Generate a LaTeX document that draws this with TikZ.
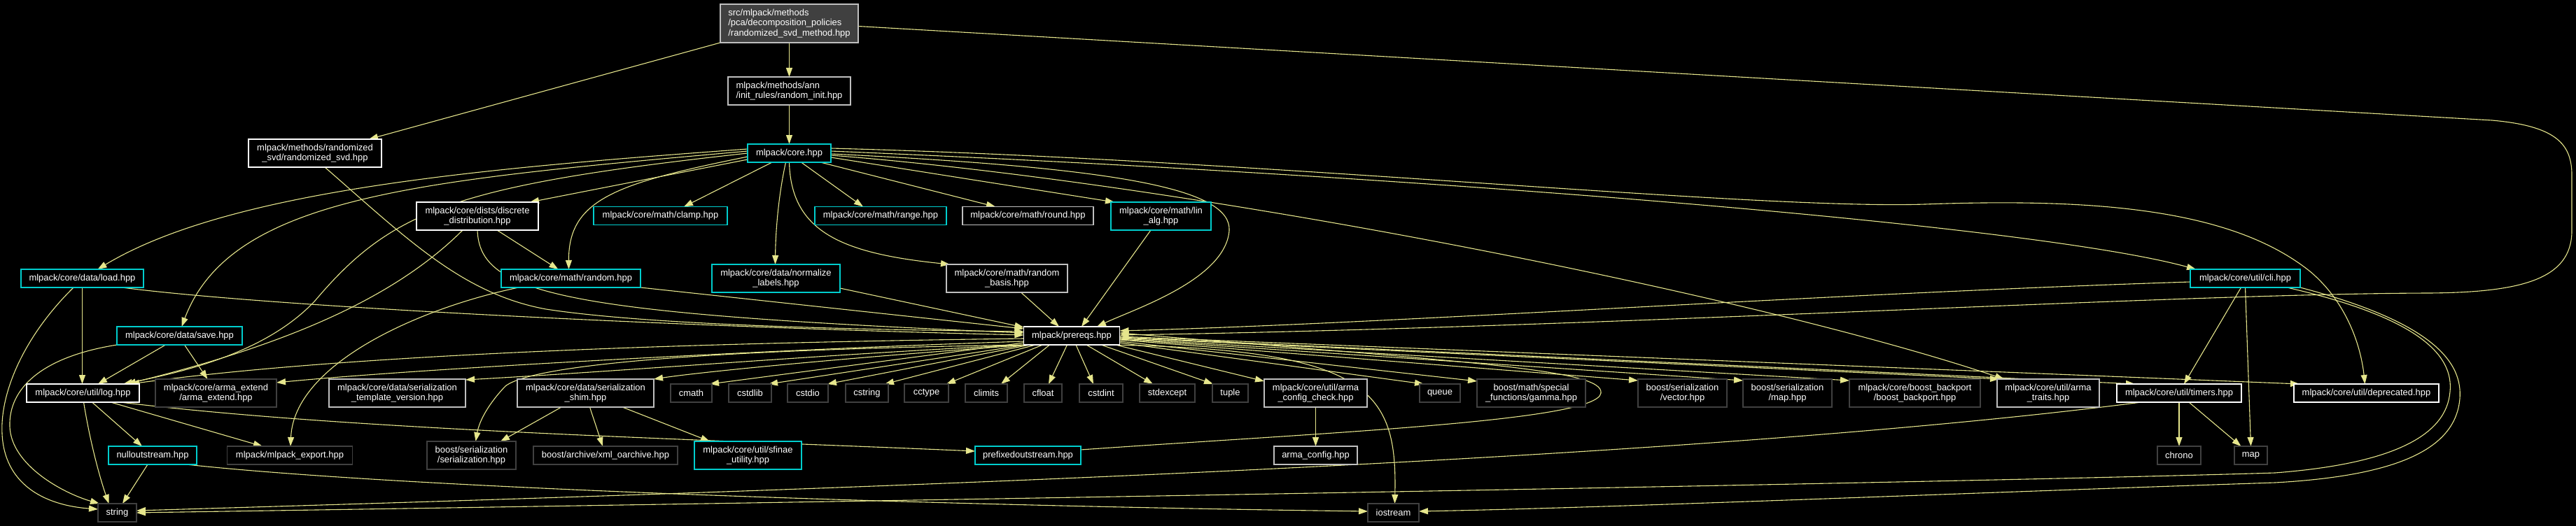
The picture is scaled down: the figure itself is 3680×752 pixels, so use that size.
\documentclass[tikz,border=0pt]{standalone}
\usepackage{fontspec}
\newfontfamily\nodefont{Liberation Sans}
\usetikzlibrary{arrows.meta,calc}
\definecolor{edgec}{RGB}{230,230,140}
\definecolor{cyanc}{RGB}{0,205,205}
\definecolor{lgray}{RGB}{191,191,191}
\definecolor{dgray}{RGB}{64,64,64}
\definecolor{topfill}{RGB}{64,64,64}
\pgfdeclarelayer{bgl}
\pgfdeclarelayer{edl}
\pgfsetlayers{bgl,edl,main}
\tikzset{
 nd/.style={draw, line width=1.2bp, fill=black, text=white, inner sep=0pt, outer sep=0pt, align=center,
   font=\nodefont\fontsize{13}{14.5}\selectfont, minimum height=26bp},
 cy/.style={nd, draw=cyanc},
 wh/.style={nd, draw=white},
 lg/.style={nd, draw=lgray},
 dg/.style={nd, draw=dgray},
 tw/.style={minimum height=40bp},
 W/.style={minimum width=#1bp},
 edg/.style={draw=edgec, line width=1.1bp, -{Triangle[length=13bp,width=9bp]}},
}
\begin{document}
\begin{tikzpicture}[x=1bp,y=-1bp]
\useasboundingbox (0,0) rectangle (3680,752);
\begin{pgfonlayer}{bgl}
\fill[black] (0,0) rectangle (3680,752);
\end{pgfonlayer}
% rank 0-2
\node[lg,W=197,minimum height=55bp,fill=topfill,align=left] (top) at (1127.5,33.5) {src/mlpack/methods\\/pca/decomposition\_policies\\/randomized\_svd\_method.hpp};
\node[lg,W=175,tw,align=left] (rinit) at (1127.5,130) {mlpack/methods/ann\\/init\_rules/random\_init.hpp};
\node[cy,W=119] (core) at (1127.5,219) {mlpack/core.hpp};
\node[wh,W=190,tw] (rsvd) at (450,219) {mlpack/methods/randomized\\\_svd/randomized\_svd.hpp};
% rank 3
\node[wh,W=174,tw] (discrete) at (682,309) {mlpack/core/dists/discrete\\\_distribution.hpp};
\node[cy,W=191] (clamp) at (943.5,308.5) {mlpack/core/math/clamp.hpp};
\node[cy,W=188] (range) at (1258,308.5) {mlpack/core/math/range.hpp};
\node[lg,W=187] (round) at (1468.5,308.5) {mlpack/core/math/round.hpp};
\node[cy,W=143,tw] (linalg) at (1658.5,309) {mlpack/core/math/lin\\\_alg.hpp};
% rank 4
\node[cy,W=175] (load) at (117.5,398) {mlpack/core/data/load.hpp};
\node[cy,W=199] (random) at (815.5,398) {mlpack/core/math/random.hpp};
\node[cy,W=183,tw] (normalize) at (1108.5,398) {mlpack/core/data/normalize\\\_labels.hpp};
\node[lg,W=173,tw] (rbasis) at (1438.5,398) {mlpack/core/math/random\\\_basis.hpp};
\node[cy,W=157] (cli) at (3207.5,398) {mlpack/core/util/cli.hpp};
% rank 5
\node[cy,W=179] (save) at (256.5,480) {mlpack/core/data/save.hpp};
\node[wh,W=137] (prereqs) at (1531,480) {mlpack/prereqs.hpp};
% rank 6
\node[wh,W=161] (log) at (118.5,562) {mlpack/core/util/log.hpp};
\node[dg,W=173,tw] (armaext) at (308.5,562) {mlpack/core/arma\_extend\\/arma\_extend.hpp};
\node[lg,W=195,tw] (stv) at (567.5,562) {mlpack/core/data/serialization\\\_template\_version.hpp};
\node[lg,W=195,tw] (shim) at (836.5,562) {mlpack/core/data/serialization\\\_shim.hpp};
\node[dg,W=59] (cmath) at (987.5,562) {cmath};
\node[dg,W=61] (cstdlib) at (1071.5,562) {cstdlib};
\node[dg,W=58] (cstdio) at (1154,562) {cstdio};
\node[dg,W=61] (cstring) at (1238.5,562) {cstring};
\node[dg,W=63] (cctype) at (1323.5,562) {cctype};
\node[dg,W=60] (climits) at (1409,562) {climits};
\node[dg,W=54] (cfloat) at (1490,562) {cfloat};
\node[dg,W=62] (cstdint) at (1573,562) {cstdint};
\node[dg,W=79] (stdexcept) at (1667.5,562) {stdexcept};
\node[dg,W=51] (tuple) at (1757.5,562) {tuple};
\node[lg,W=147,tw] (acc) at (1879.5,562) {mlpack/core/util/arma\\\_config\_check.hpp};
\node[dg,W=58] (queue) at (2057,562) {queue};
\node[dg,W=155,tw] (gamma) at (2187.5,562) {boost/math/special\\\_functions/gamma.hpp};
\node[dg,W=127,tw] (bvector) at (2403.5,562) {boost/serialization\\/vector.hpp};
\node[dg,W=127,tw] (bmap) at (2553.5,562) {boost/serialization\\/map.hpp};
\node[dg,W=187,tw] (backport) at (2735.5,562) {mlpack/core/boost\_backport\\/boost\_backport.hpp};
\node[lg,W=146,tw] (traits) at (2926,562) {mlpack/core/util/arma\\\_traits.hpp};
\node[wh,W=178] (timers) at (3113,562) {mlpack/core/util/timers.hpp};
\node[wh,W=207] (deprecated) at (3380.5,562) {mlpack/core/util/deprecated.hpp};
% rank 7
\node[cy,W=126] (nullout) at (218,651) {nulloutstream.hpp};
\node[dg,W=179] (export) at (414,651) {mlpack/mlpack\_export.hpp};
\node[dg,W=127,tw] (bser) at (673.5,651) {boost/serialization\\/serialization.hpp};
\node[dg,W=206] (xml) at (865,651) {boost/archive/xml\_oarchive.hpp};
\node[cy,W=153,tw] (sfinae) at (1068.5,651) {mlpack/core/util/sfinae\\\_utility.hpp};
\node[cy,W=151] (prefixed) at (1468.5,651) {prefixedoutstream.hpp};
\node[lg,W=119] (armaconfig) at (1879.5,651) {arma\_config.hpp};
\node[dg,W=62] (chrono) at (3113,651) {chrono};
\node[dg,W=47] (map) at (3215.5,651) {map};
% rank 8
\node[dg,W=55] (string) at (167.5,733) {string};
\node[dg,W=73] (iostream) at (1990.5,733) {iostream};

\begin{pgfonlayer}{edl}
% top
\draw[edg] (top.south) -- (rinit.north);
\draw[edg] (rinit.south) -- (core.north);
\draw[edg] (top.south west) -- ($(rsvd.north east)+(-18,0)$);
\draw[edg] ($(top.east)+(0,4)$) -- (3560,172) .. controls (3650,180) and (3674,205) .. (3674,250) -- (3674,330) .. controls (3674,400) and (3600,418) .. (3470,419) .. controls (3100,420) and (2300,468) .. ($(prereqs.east)+(0,-1)$);
% rsvd
\draw[edg] ($(rsvd.south)+(14,0)$) .. controls (580,340) and (660,420) .. (780,442) .. controls (950,468) and (1300,472) .. ($(prereqs.west)+(0,-6)$);
% core
\draw[edg] ($(core.west)+(0,-6)$) .. controls (700,240) and (330,270) .. ($(load.north)+(22,0)$);
\draw[edg] ($(core.west)+(0,-3)$) .. controls (600,258) and (330,280) .. ($(save.north)+(3,0)$);
\draw[edg] (core.west) .. controls (650,265) and (560,300) .. (450,430) .. controls (380,505) and (260,532) .. ($(log.north east)+(-23,0)$);
\draw[edg] ($(core.west)+(0,9)$) -- ($(discrete.north east)+(-12,0)$);
\draw[edg] ($(core.west)+(0,5)$) .. controls (880,262) and (812,285) .. ($(random.north)+(-3,0)$);
\draw[edg] ($(core.south west)+(35,0)$) -- ($(clamp.north east)+(-62,0)$);
\draw[edg] ($(core.south)+(-5,0)$) .. controls (1112,280) and (1108,330) .. ($(normalize.north)+(-1,0)$);
\draw[edg] (core.south) .. controls (1130,330) and (1200,362) .. ($(rbasis.north west)+(5,0)$);
\draw[edg] ($(core.south)+(17,0)$) -- ($(range.north)+(-25,0)$);
\draw[edg] ($(core.south east)+(-15,0)$) -- ($(round.north west)+(47,0)$);
\draw[edg] ($(core.east)+(0,6)$) -- ($(linalg.north west)+(5,0)$);
\draw[edg] ($(core.east)+(0,1)$) .. controls (1600,240) and (1760,270) .. (1756,330) .. controls (1750,400) and (1620,442) .. ($(prereqs.north)+(36,0)$);
\draw[edg] ($(core.east)+(0,-3)$) .. controls (2000,250) and (2900,320) .. ($(cli.north west)+(8,0)$);
\draw[edg] ($(core.east)+(0,3)$) .. controls (1700,262) and (2500,420) .. ($(traits.north west)+(10,0)$);
\draw[edg] ($(core.east)+(0,-7)$) .. controls (1800,228) and (2500,300) .. (2750,292) .. controls (3000,283) and (3190,300) .. (3300,388) .. controls (3350,430) and (3372,490) .. ($(deprecated.north)+(-2,0)$);
% discrete
\draw[edg] ($(discrete.south east)+(-59,0)$) -- ($(random.north)+(-18,0)$);
\draw[edg] ($(discrete.south west)+(66,0)$) .. controls (560,430) and (400,495) .. ($(log.north east)+(-18,0)$);
\draw[edg] (discrete.south) .. controls (685,420) and (800,448) .. ($(prereqs.west)+(0,-4)$);
% rank 3/4 to prereqs
\draw[edg] ($(linalg.south west)+(57,0)$) -- ($(prereqs.north)+(14,0)$);
\draw[edg] (random.south east) -- ($(prereqs.west)+(0,-10)$);
\draw[edg] ($(normalize.south east)+(0,-6)$) -- ($(prereqs.north west)+(0,1)$);
\draw[edg] ($(rbasis.south)+(20,0)$) -- ($(prereqs.north)+(-18,0)$);
\draw[edg] ($(random.south west)+(25,0)$) .. controls (600,440) and (420,520) .. ($(export.north)+(1,0)$);
% load
\draw[edg] ($(load.south west)+(75,0)$) .. controls (35,480) and (0,560) .. (3,620) .. controls (6,690) and (60,722) .. ($(string.west)+(0,-5)$);
\draw[edg] (load.south) -- ($(log.north)+(-1,0)$);
\draw[edg] ($(load.south east)+(-31,0)$) .. controls (400,440) and (1000,468) .. ($(prereqs.west)+(0,-1)$);
% save
\draw[edg] (save.south west) .. controls (60,510) and (12,555) .. (14,610) .. controls (16,665) and (90,705) .. ($(string.north west)+(2,0)$);
\draw[edg] ($(save.south)+(-20,0)$) -- ($(log.north east)+(-59,0)$);
\draw[edg] ($(save.south)+(7,0)$) -- ($(armaext.north)+(-12,0)$);
% cli
\draw[edg] ($(cli.west)+(0,5)$) .. controls (2600,420) and (2000,462) .. ($(prereqs.east)+(0,-7)$);
\draw[edg] ($(cli.south)+(-6,0)$) -- ($(timers.north)+(7,0)$);
\draw[edg] (cli.south) -- (map.north);
\draw[edg] ($(cli.south east)+(-19,0)$) .. controls (3460,455) and (3505,510) .. (3500,560) .. controls (3495,622) and (3420,663) .. (3250,676) .. controls (2800,690) and (1300,716) .. ($(string.east)+(0,0)$);
\draw[edg] (cli.south east) .. controls (3480,462) and (3518,520) .. (3514,570) .. controls (3508,640) and (3430,680) .. (3250,690) .. controls (2800,705) and (2300,726) .. ($(iostream.east)+(0,-2)$);
% timers
\draw[edg] ($(timers.south west)+(35,0)$) .. controls (2400,660) and (1200,700) .. ($(string.east)+(0,-3)$);
\draw[edg] (timers.south) -- (chrono.north);
\draw[edg] ($(timers.south)+(14,0)$) -- ($(map.north)+(-14,0)$);
% log
\draw[edg] ($(log.south)+(1,0)$) .. controls (130,640) and (145,690) .. ($(string.north)+(-12,0)$);
\draw[edg] ($(log.south)+(13,0)$) -- ($(nullout.north)+(-15,0)$);
\draw[edg] ($(log.south east)+(-41,0)$) -- ($(export.north)+(-39,0)$);
\draw[edg] ($(log.south east)+(-27,0)$) .. controls (500,615) and (1000,628) .. ($(prefixed.west)+(0,-6)$);
% nullout
\draw[edg] ($(nullout.south)+(-7,0)$) -- ($(string.north east)+(-20,0)$);
\draw[edg] ($(nullout.south east)+(-15,0)$) .. controls (600,700) and (1400,724) .. ($(iostream.west)+(0,-2)$);
% prereqs out
\draw[edg] ($(prereqs.west)+(0,4)$) .. controls (1000,490) and (500,506) .. ($(log.north east)+(-13,0)$);
\draw[edg] ($(prereqs.west)+(0,8)$) .. controls (1100,500) and (600,527) .. ($(armaext.east)+(0,-15)$);
\draw[edg] ($(prereqs.south west)+(1,0)$) .. controls (1200,505) and (900,530) .. ($(stv.east)+(0,-19)$);
\draw[edg] ($(prereqs.south west)+(4,0)$) .. controls (1000,500) and (760,522) .. (722,552) .. controls (700,575) and (685,600) .. ($(bser.north)+(6,0)$);
\draw[edg] ($(prereqs.south west)+(6,0)$) .. controls (1200,512) and (1000,532) .. (shim.north east);
\draw[edg] ($(prereqs.west)+(0,10)$) -- ($(cmath.north east)+(-3,0)$);
\draw[edg] ($(prereqs.south west)+(3,0)$) -- ($(cstdlib.north east)+(-4,0)$);
\draw[edg] ($(prereqs.south west)+(9,0)$) -- ($(cstdio.north east)+(-1,0)$);
\draw[edg] ($(prereqs.south west)+(17,0)$) -- ($(cstring.north east)+(-5,0)$);
\draw[edg] ($(prereqs.south west)+(27,0)$) -- ($(cctype.north east)+(-3,0)$);
\draw[edg] ($(prereqs.south west)+(37,0)$) -- ($(climits.north east)+(-9,0)$);
\draw[edg] ($(prereqs.south west)+(62,0)$) -- ($(cfloat.north)+(8,0)$);
\draw[edg] ($(prereqs.south)+(6,0)$) -- ($(cstdint.north west)+(20,0)$);
\draw[edg] ($(prereqs.south)+(21,0)$) -- ($(stdexcept.north west)+(19,0)$);
\draw[edg] ($(prereqs.south)+(42,0)$) -- ($(tuple.north west)+(1,0)$);
\draw[edg] ($(prereqs.south east)+(-6,0)$) -- ($(acc.north west)+(0,3)$);
\draw[edg] ($(prereqs.south east)+(0,-3)$) -- ($(queue.north west)+(6,0)$);
\draw[edg] ($(prereqs.east)+(0,8)$) -- ($(gamma.north west)+(0,3)$);
\draw[edg] ($(prereqs.east)+(0,6)$) -- ($(bvector.north west)+(0,2)$);
\draw[edg] ($(prereqs.east)+(0,5)$) -- ($(bmap.north west)+(0,2)$);
\draw[edg] ($(prereqs.east)+(0,4)$) -- ($(backport.north west)+(0,2)$);
\draw[edg] ($(prereqs.east)+(0,3)$) -- ($(traits.north west)+(3,0)$);
\draw[edg] ($(prereqs.east)+(0,2)$) -- ($(timers.north west)+(26,0)$);
\draw[edg] ($(prereqs.east)+(0,1)$) -- ($(deprecated.north west)+(8,0)$);
\draw[edg] ($(prereqs.south east)+(-20,0)$) .. controls (1960,498) and (1996,560) .. ($(iostream.north)+(2,0)$);
% prefixed back edge
\draw[edg] ($(prefixed.east)+(0,-8)$) .. controls (1900,618) and (2282,602) .. (2287,562) .. controls (2292,528) and (2100,518) .. ($(prereqs.east)+(0,-4)$);
% shim, acc
\draw[edg] ($(shim.south west)+(63,0)$) -- ($(bser.north east)+(-22,0)$);
\draw[edg] ($(shim.south)+(6,0)$) -- ($(xml.north)+(-4,0)$);
\draw[edg] ($(shim.south east)+(-45,0)$) -- ($(sfinae.north west)+(22,0)$);
\draw[edg] (acc.south) -- (armaconfig.north);
\end{pgfonlayer}
\end{tikzpicture}
\end{document}
